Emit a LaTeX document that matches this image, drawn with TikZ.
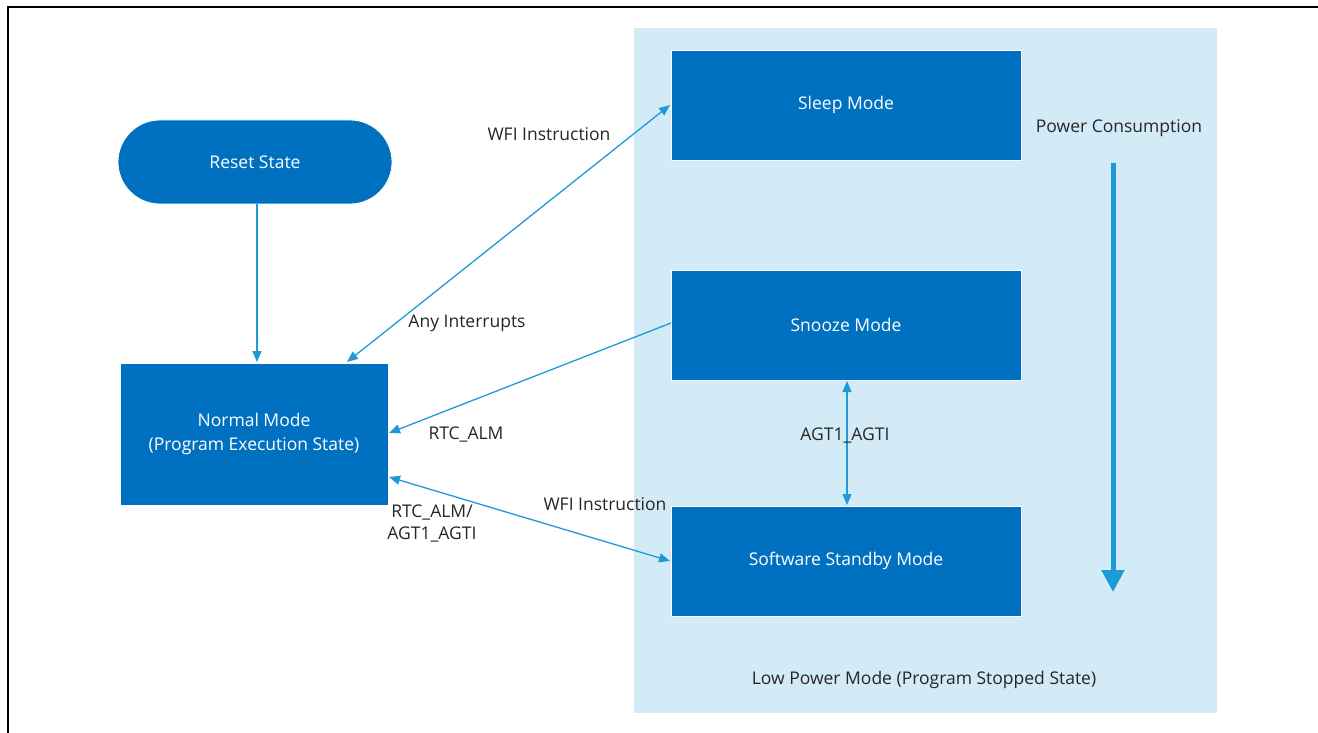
\documentclass[tikz,border=0pt]{standalone}
\usepackage{fontspec}
\setmainfont{Open Sans}
\usetikzlibrary{arrows.meta,shapes.misc}
\definecolor{boxblue}{HTML}{0070C0}
\definecolor{panelblue}{HTML}{D2EBF7}
\definecolor{arrowblue}{HTML}{1E9BD7}
\tikzset{
  modebox/.style={fill=boxblue, draw=white, line width=0.8pt, text=white, minimum width=350pt, minimum height=110pt, align=center, font=\fontsize{17.5}{24}\selectfont, inner sep=0pt},
  lbl/.style={font=\fontsize{17.5}{22}\selectfont, text=black!85, align=center, inner sep=0pt},
  conn/.style={draw=arrowblue, line width=1.3pt, -{Triangle[length=11pt,width=9pt]}},
  dconn/.style={draw=arrowblue, line width=1.3pt, {Triangle[length=11pt,width=9pt]}-{Triangle[length=11pt,width=9pt]}},
}
\begin{document}
\begin{tikzpicture}[x=1pt,y=-1pt]
\useasboundingbox (0,0) rectangle (1318,733);
\fill[white] (0,0) rectangle (1318,733);
\draw[black, line width=2.2pt] (8,733) -- (8,7) -- (1318,7);
\fill[panelblue] (634,28) rectangle (1217,713);
\node[modebox] (sleep) at (846,105) {Sleep Mode};
\node[modebox] (snooze) at (846,325) {Snooze Mode};
\node[modebox] (standby) at (846,561) {Software Standby Mode};
\node[modebox, rounded rectangle, minimum width=274pt, minimum height=84pt] (reset) at (255,162) {Reset State};
\node[modebox, minimum width=268pt, minimum height=142pt] (normal) at (254,434) {Normal Mode\\(Program Execution State)};
\coordinate (nt) at (347,362);
\coordinate (nl1) at (389,433);
\coordinate (nl2) at (389,477);
\coordinate (sl) at (670,105);
\coordinate (snl) at (671,323);
\coordinate (stl) at (670,561);
\draw[conn] (reset.south -| 257,0) -- (257,362);
\draw[dconn] (nt) -- (sl);
\draw[conn] (snl) -- (nl1);
\draw[dconn] (nl2) -- (stl);
\draw[dconn] (847,381) -- (847,505);
\coordinate (pwtop) at (1113,163);
\coordinate (pwbot) at (1113,592);
\draw[draw=arrowblue, line width=5pt, -{Triangle[length=22pt,width=22pt]}] (pwtop) -- (pwbot);
\node[lbl] (l1) at (549,134) {WFI Instruction};
\node[lbl] (l2) at (467,323) {Any Interrupts};
\node[lbl] (l3) at (466,435) {RTC\_ALM};
\node[lbl] (l4) at (432,524) {RTC\_ALM/\\AGT1\_AGTI};
\node[lbl] (l5) at (605,504) {WFI Instruction};
\node[lbl] (l6) at (845,436) {AGT1\_AGTI};
\node[lbl] (l7) at (1119,128) {Power Consumption};
\node[lbl] (l8) at (924,680) {Low Power Mode (Program Stopped State)};
\end{tikzpicture}
\end{document}
